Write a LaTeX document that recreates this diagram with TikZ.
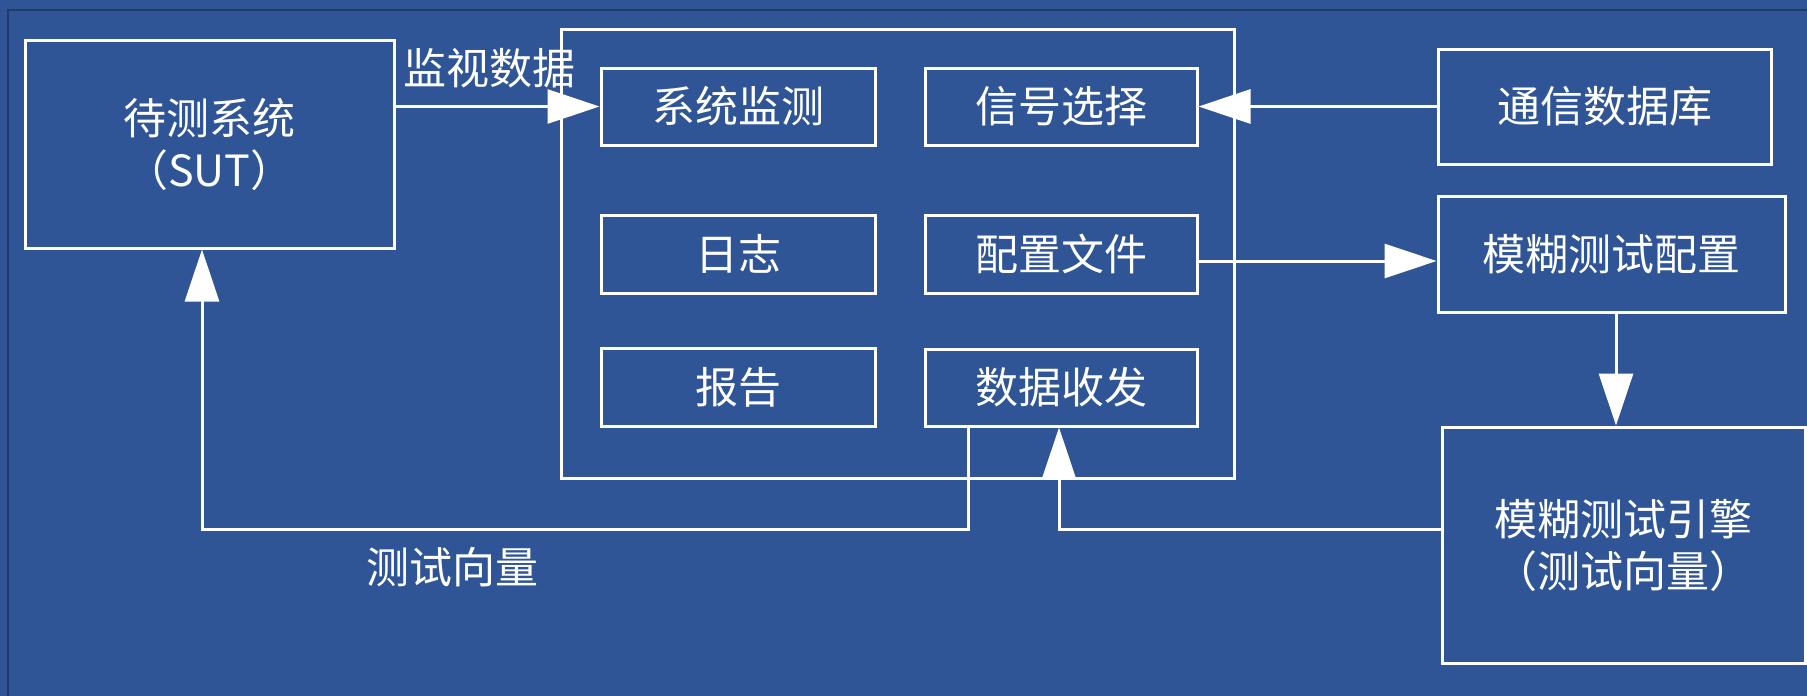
\documentclass[tikz,border=0pt]{standalone}
\usepackage{fontspec}
\newfontfamily\cjk{Noto Sans CJK SC}
\usetikzlibrary{arrows.meta,calc}
\definecolor{bgblue}{RGB}{47,85,150}
\definecolor{edgedark}{RGB}{33,58,105}
\begin{document}
\begin{tikzpicture}[x=1pt,y=-1pt,
  txt/.style={text=white,font=\cjk\fontsize{43}{52}\selectfont,align=center,inner sep=0pt},
  box/.style={txt,draw=white,line width=3pt,rectangle},
  line/.style={draw=white,line width=3pt},
  arr/.style={line,-{Triangle[length=52pt,width=34pt]}}]
\useasboundingbox (0,0) rectangle (1807,696);
\fill[bgblue] (0,0) rectangle (1807,696);
\draw[edgedark,line width=2pt] (8,696) -- (8,10) -- (1807,10);
% outer frame
\node[box,minimum width=673pt,minimum height=449pt] (frame) at (897.5,253.5) {};
% boxes
\node[box,minimum width=369pt,minimum height=208pt] (sut) at (209.5,144) {待测系统\\（SUT）};
\node[box,minimum width=274pt,minimum height=77pt] (jc) at (738,106.5) {系统监测};
\node[box,minimum width=272pt,minimum height=77pt] (xh) at (1061,106.5) {信号选择};
\node[box,minimum width=274pt,minimum height=78pt] (rz) at (738,254) {日志};
\node[box,minimum width=272pt,minimum height=78pt] (pz) at (1061,254) {配置文件};
\node[box,minimum width=274pt,minimum height=78pt] (bg) at (738,387) {报告};
\node[box,minimum width=272pt,minimum height=77pt] (sj) at (1061,387.5) {数据收发};
\node[box,minimum width=333pt,minimum height=115pt] (db) at (1604.5,106.5) {通信数据库};
\node[box,minimum width=347pt,minimum height=116pt] (cfg) at (1611.5,254) {模糊测试配置};
\node[box,minimum width=363pt,minimum height=236pt] (eng) at (1623.5,545) {模糊测试引擎\\（测试向量）};
% labels
\node[txt] (l1) at (489,68) {监视数据};
\node[txt] (l2) at (452,567) {测试向量};
% connectors
\coordinate (ta) at (968,529);
\coordinate (tb) at (202,529);
\coordinate (tc) at (1059,529);
\coordinate (td) at (1616,0);
\draw[arr] (sut.east |- jc.west) -- (jc.west);
\draw[arr] (db.west) -- (xh.east);
\draw[arr] ([yshift=-7pt]pz.east) -- ([yshift=-7pt]cfg.west);
\draw[arr] (cfg.south -| td) -- (eng.north -| td);
\draw[arr] (sj.south -| ta) |- (tb) -- (sut.south -| tb);
\draw[arr] (eng.west |- tc) -- (tc) -- (sj.south -| tc);
\end{tikzpicture}
\end{document}
